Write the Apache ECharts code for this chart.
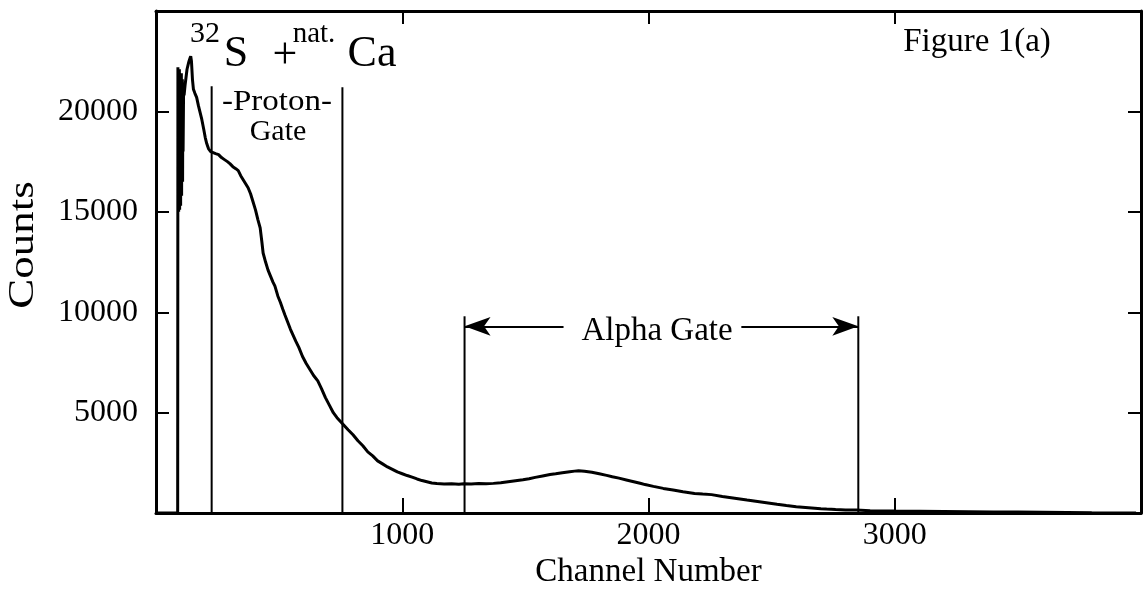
<!DOCTYPE html>
<html>
<head>
<meta charset="utf-8">
<script src="https://cdn.jsdelivr.net/npm/echarts@6/dist/echarts.min.js"></script>
<style>
html,body{margin:0;padding:0;background:#fff;}
#c{width:1144px;height:594px;}
</style>
</head>
<body>
<div id="c"></div>
<script>
// ---- data ----
const channels = [0,88,89,90,91,92,93,94,95,96,97,98,99,100,101,102,103,104,105,106,107,108,109,110,112,114,118,122,126,130,134,138,141,144,148,152,158,165,172,180,186,194,200,206,213,222,232,242,254,266,278,290,300,312,324,334,344,354,364,374,384,394,404,414,423,430,435,445,455,465,475,483,495,505,515,524,535,546,557,568,580,595,610,625,640,657,672,688,705,720,735,750,765,780,800,820,840,860,880,900,920,940,960,980,1000,1020,1040,1060,1080,1100,1120,1140,1170,1200,1230,1250,1280,1310,1340,1370,1400,1430,1460,1490,1515,1540,1570,1600,1623,1650,1680,1700,1716,1740,1770,1800,1830,1853,1880,1910,1940,1970,1986,2020,2060,2100,2140,2187,2220,2256,2300,2350,2400,2450,2500,2522,2560,2600,2650,2700,2723,2760,2800,2844,2900,3000,3100,3200,3300,3400,3500,3600,3700,3800,3900,3980];
const counts = [0,0,22200,15200,22000,15000,21900,15600,22100,15100,21700,16000,21800,15300,21500,16200,21900,15800,21400,17000,21600,16500,21200,18000,21000,20800,21300,21700,22100,22300,22500,22650,22750,22500,21600,21100,20900,20700,20300,19900,19600,19100,18700,18400,18150,18000,17950,17900,17850,17700,17600,17500,17400,17250,17150,17050,16800,16600,16400,16200,15900,15500,15100,14600,14200,13500,12950,12500,12100,11800,11500,11300,10800,10500,10150,9850,9500,9150,8850,8550,8250,7800,7450,7150,6850,6580,6200,5750,5350,5000,4750,4550,4350,4150,3900,3600,3350,3050,2850,2600,2450,2300,2180,2050,1960,1870,1790,1700,1620,1560,1500,1470,1450,1460,1440,1460,1450,1470,1460,1480,1510,1560,1610,1660,1710,1780,1850,1920,1960,2010,2060,2090,2110,2080,2030,1960,1880,1810,1740,1650,1560,1470,1420,1330,1230,1150,1060,980,950,920,830,740,650,570,480,440,380,320,270,220,200,180,160,150,120,100,90,80,70,60,55,45,30,15,5,0];
const xTicks = [1000, 2000, 3000];
const yTicks = [5000, 10000, 15000, 20000];
const protonGate = [226, 757];
const protonGateTop = [21250, 21200];
const alphaGate = [1253, 2852];
const alphaGateTop = 9800;
const alphaArrowY = 9300;
const alphaArrowInner = [1655, 2377];

const FONT = '"Liberation Serif","DejaVu Serif",serif';
const chart = echarts.init(document.getElementById('c'), null, {renderer:'canvas'});

const spectrum = channels.map((c,i)=>[c, counts[i]]);
const gateSeries = (x, top) => ({
  type:'line', data:[[x,0],[x,top]], symbol:'none', silent:true,
  lineStyle:{color:'#000', width:2}, z:3, animation:false
});

const option = {
  backgroundColor:'#fff',
  animation:false,
  grid:{left:156, right:-5, top:11, bottom:72, containLabel:false},
  xAxis:[{
    type:'value', min:0, max:4000, interval:1000, position:'bottom',
    axisLine:{show:true, lineStyle:{color:'#000', width:3}},
    axisTick:{show:true, inside:true, length:15, lineStyle:{color:'#000', width:2}},
    axisLabel:{show:true, margin:6, color:'#000', fontFamily:FONT, fontSize:32,
      formatter:v => xTicks.includes(v) ? String(v) : ''},
    splitLine:{show:false},
    name:'Channel Number', nameLocation:'middle', nameGap:36,
    nameTextStyle:{color:'#000', fontFamily:FONT, fontSize:33}
  },{
    type:'value', min:0, max:4000, interval:1000, position:'top',
    axisLine:{show:true, onZero:false, lineStyle:{color:'#000', width:3}},
    axisTick:{show:true, inside:true, length:13, lineStyle:{color:'#000', width:2}},
    axisLabel:{show:false}, splitLine:{show:false}
  }],
  yAxis:[{
    type:'value', min:0, max:25000, interval:5000, position:'left',
    axisLine:{show:true, lineStyle:{color:'#000', width:3}},
    axisTick:{show:true, inside:true, length:13, lineStyle:{color:'#000', width:2}},
    axisLabel:{show:true, margin:18, color:'#000', fontFamily:FONT, fontSize:32,
      formatter:v => yTicks.includes(v) ? String(v) : ''},
    splitLine:{show:false}
  },{
    type:'value', min:0, max:25000, interval:5000, position:'right',
    axisLine:{show:true, onZero:false, lineStyle:{color:'#000', width:3}},
    axisTick:{show:true, inside:true, length:13, lineStyle:{color:'#000', width:2}},
    axisLabel:{show:false}, splitLine:{show:false}
  }],
  series:[
    {type:'line', data:spectrum, symbol:'none', silent:true, z:4,
     lineStyle:{color:'#000', width:3}},
    gateSeries(protonGate[0], protonGateTop[0]),
    gateSeries(protonGate[1], protonGateTop[1]),
    gateSeries(alphaGate[0], alphaGateTop),
    gateSeries(alphaGate[1], alphaGateTop),
    {type:'line', data:[], silent:true,
     markLine:{silent:true, symbol:['none','arrow'], symbolSize:[14,26],
       label:{show:false}, animation:false,
       lineStyle:{color:'#000', width:2, type:'solid'},
       emphasis:{disabled:true},
       data:[
         [{coord:[alphaArrowInner[0], alphaArrowY]},{coord:[alphaGate[0], alphaArrowY]}],
         [{coord:[alphaArrowInner[1], alphaArrowY]},{coord:[alphaGate[1], alphaArrowY]}]
       ]}}
  ],
  graphic:[
    {type:'text', x:205, y:34, style:{text:'32', font:'30px '+FONT, fill:'#000', align:'center', verticalAlign:'middle'}},
    {type:'text', x:236, y:54, style:{text:'S', font:'44px '+FONT, fill:'#000', align:'center', verticalAlign:'middle'}},
    {type:'text', x:285, y:56, style:{text:'+', font:'44px '+FONT, fill:'#000', align:'center', verticalAlign:'middle'}},
    {type:'text', x:314, y:34, style:{text:'nat.', font:'29px '+FONT, fill:'#000', align:'center', verticalAlign:'middle'}},
    {type:'text', x:372, y:54, style:{text:'Ca', font:'44px '+FONT, fill:'#000', align:'center', verticalAlign:'middle'}},
    {type:'text', x:977, y:42, style:{text:'Figure 1(a)', font:'33px '+FONT, fill:'#000', align:'center', verticalAlign:'middle'}},
    {type:'text', x:277, y:102, scaleX:1.1, style:{text:'-Proton-', font:'30px '+FONT, fill:'#000', align:'center', verticalAlign:'middle'}},
    {type:'text', x:278, y:132, style:{text:'Gate', font:'30px '+FONT, fill:'#000', align:'center', verticalAlign:'middle'}},
    {type:'text', x:657, y:331, style:{text:'Alpha Gate', font:'33px '+FONT, fill:'#000', align:'center', verticalAlign:'middle'}},
    {type:'text', x:24, y:245, rotation:Math.PI/2, scaleX:1.25, style:{text:'Counts', font:'36px '+FONT, fill:'#000', align:'center', verticalAlign:'middle'}}
  ]
};
chart.setOption(option);
</script>
</body>
</html>
